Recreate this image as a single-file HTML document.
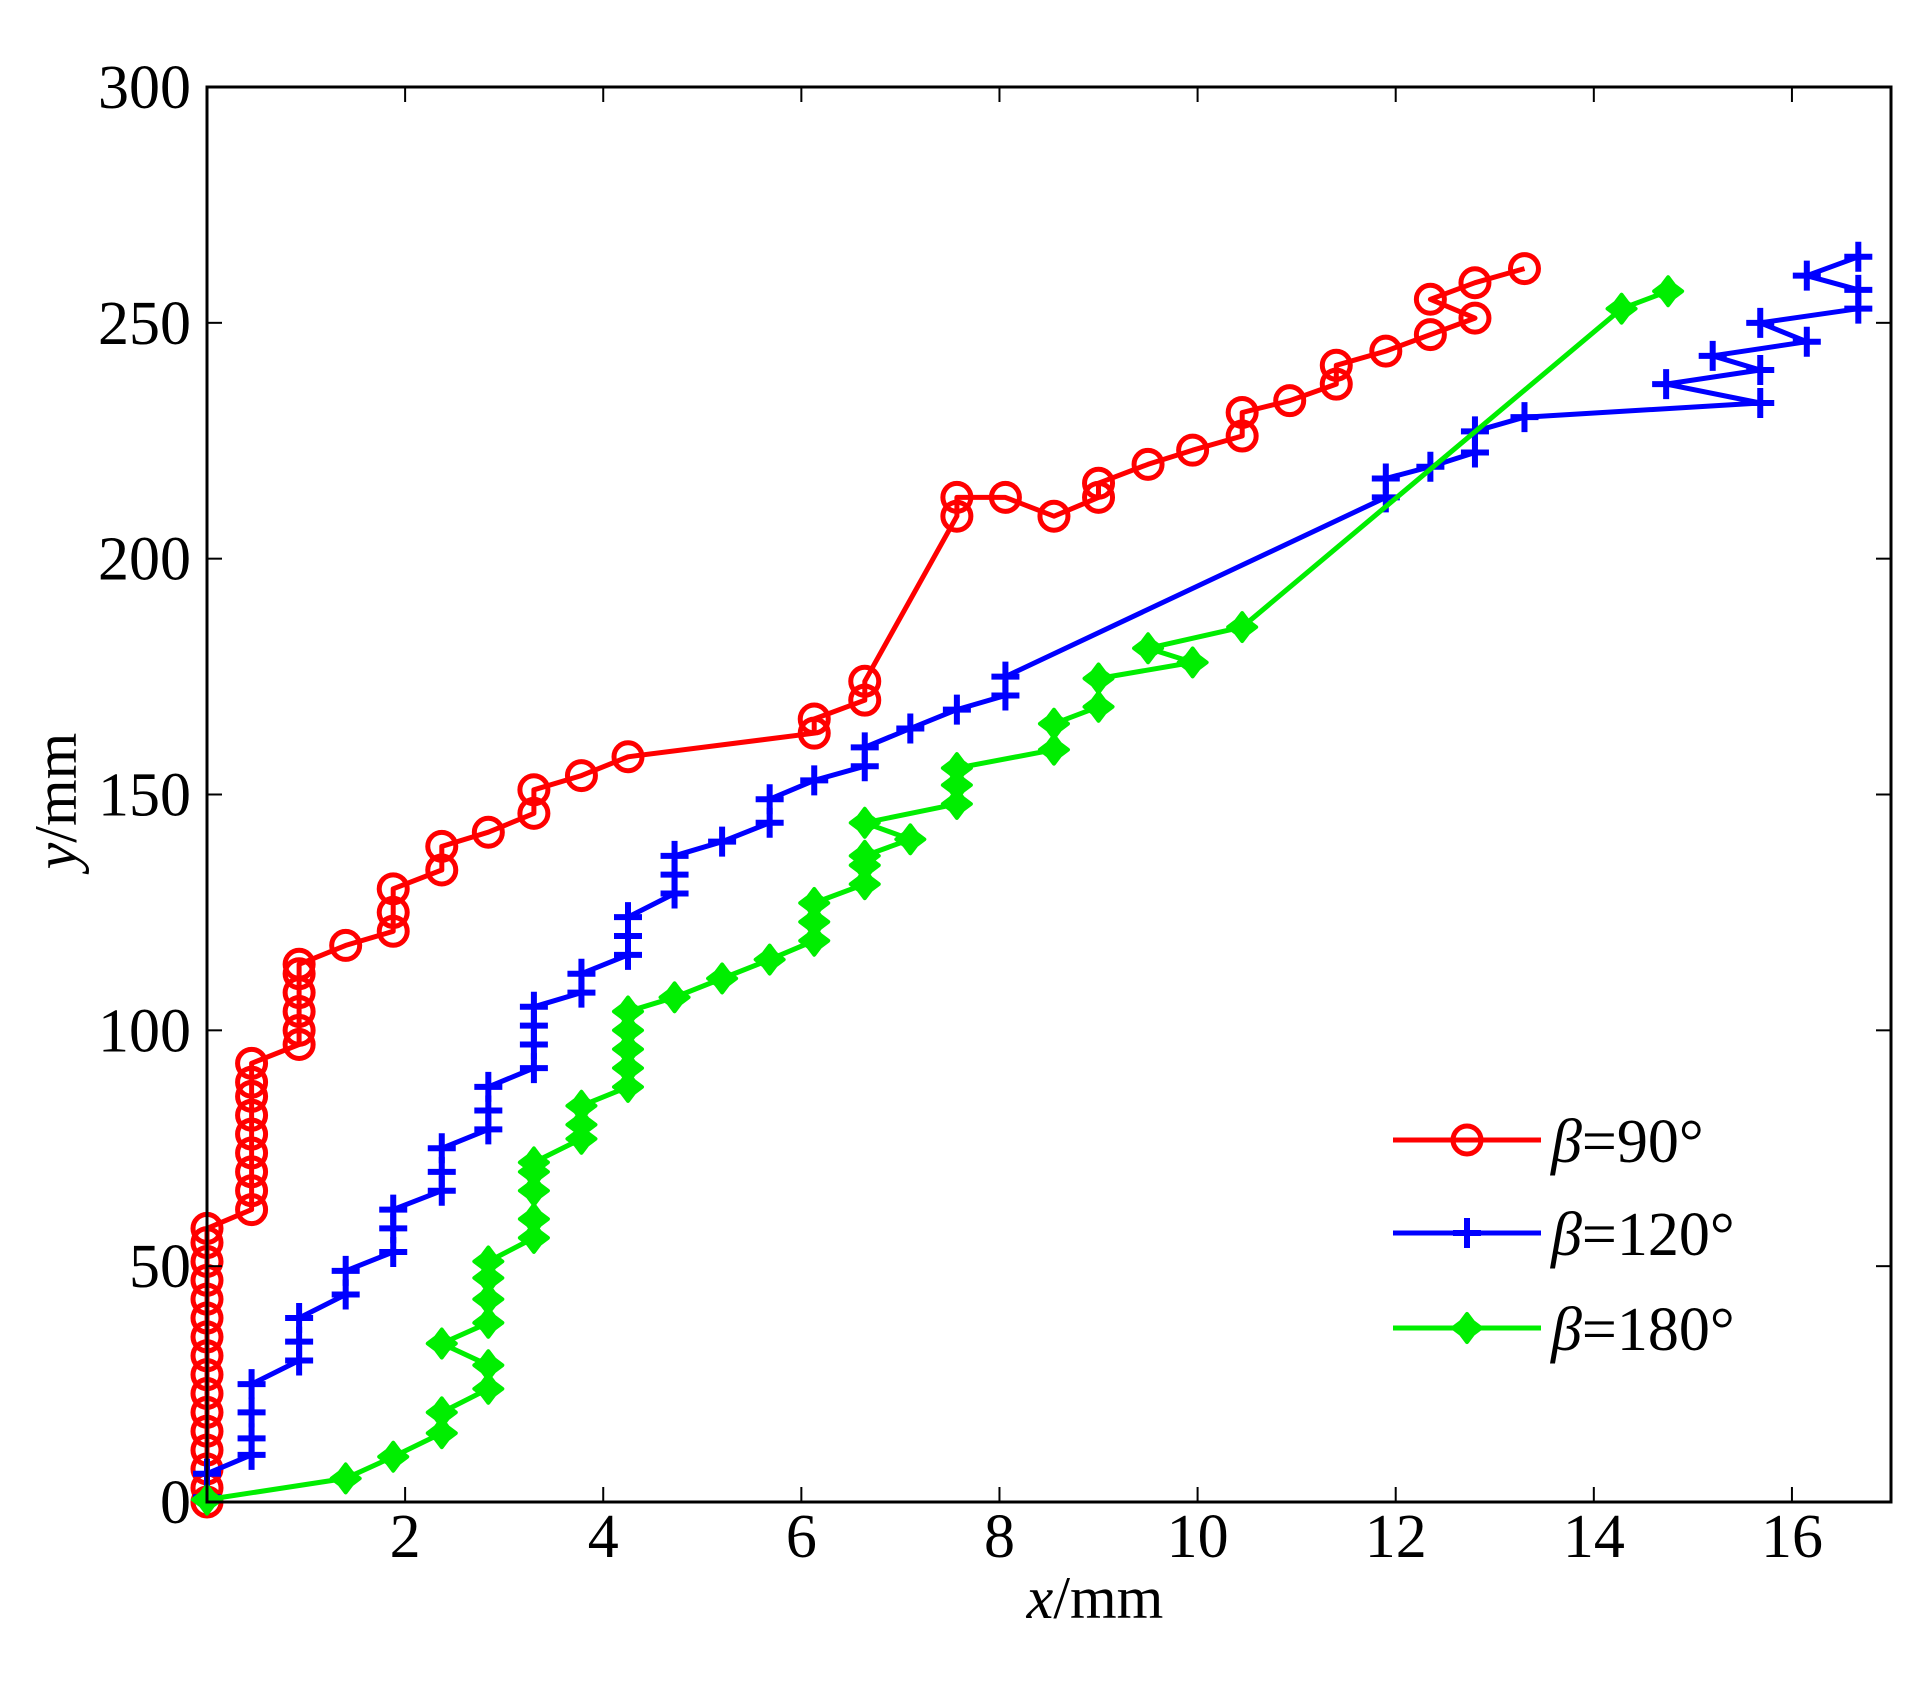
<!DOCTYPE html>
<html><head><meta charset="utf-8"><style>
html,body{margin:0;padding:0;background:#fff;}
svg{display:block;}
text{font-family:"Liberation Serif","DejaVu Serif",serif;fill:#000;}
</style></head><body>
<svg id="chart" width="1923" height="1689" viewBox="0 0 1923 1689" xmlns="http://www.w3.org/2000/svg">
<rect width="1923" height="1689" fill="#fff"/>
<g id="plot"></g>
<rect x="207" y="87" width="1684" height="1415" fill="none" stroke="#000" stroke-width="3"/>
<g id="ticks"></g>
<text x="1095" y="1618" font-size="60" text-anchor="middle"><tspan font-style="italic">x</tspan>/mm</text>
<text transform="translate(76,801) rotate(-90)" font-size="60" text-anchor="middle"><tspan font-style="italic">y</tspan>/mm</text>
<g id="legend"></g>
</svg>
<script>
const xTicks=[2,4,6,8,10,12,14,16];
const yTicks=[0,50,100,150,200,250,300];
const red_x=[0,0,0,0,0,0,0,0,0,0,0,0,0,0,0,0,0.45,0.45,0.45,0.45,0.45,0.45,0.45,0.45,0.45,0.93,0.93,0.93,0.93,0.93,0.93,1.4,1.88,1.88,1.88,2.37,2.37,2.84,3.3,3.3,3.78,4.25,6.13,6.13,6.64,6.64,7.57,7.57,8.06,8.55,9.0,9.0,9.5,9.95,10.45,10.45,10.93,11.4,11.4,11.9,12.35,12.8,12.35,12.8,13.3];
const red_y=[0,3,7,11,15,19,23,27,31,35,39,43,47,51,55,58,62,66,70,74,78,82,86,89,93,97,100,104,108,112,114,118,121,125,130,134,139,142,146,151,154,158,163,166,170,174,209,213,213,209,213,216,220,223,226,231,233.5,237,241,244,247.5,251,255,258.5,261.5];
const blue_x=[0,0,0.45,0.45,0.45,0.45,0.93,0.93,0.93,1.4,1.4,1.88,1.88,1.88,2.37,2.37,2.37,2.84,2.84,2.84,3.3,3.3,3.3,3.3,3.78,3.78,4.25,4.25,4.25,4.72,4.72,4.72,5.2,5.68,5.68,6.13,6.64,6.64,7.1,7.57,8.06,8.06,11.9,11.9,12.35,12.8,12.8,13.3,15.68,14.73,15.68,15.2,16.15,15.68,16.67,16.67,16.15,16.67];
const blue_y=[1,6,10,13.5,19,25,30,34,39,44,49,53,58,62,66,70,75,79,83,88,92,97,101,105,108,112,116,120,124,129,133,137,140,144,149,153,156,160,164,168,171,175,213,217,219.5,222.5,227,230,233,237,240,243,246,250,253,257,260,264];
const green_x=[0,1.4,1.88,2.37,2.37,2.84,2.84,2.37,2.84,2.84,2.84,2.84,3.3,3.3,3.3,3.3,3.3,3.78,3.78,3.78,4.25,4.25,4.25,4.25,4.25,4.72,5.2,5.68,6.13,6.13,6.13,6.64,6.64,6.64,7.1,6.64,7.57,7.57,7.57,8.55,8.55,9.0,9.0,9.95,9.5,10.45,14.28,14.75];
const green_y=[0.5,5,9.6,14.6,19,24,29,33.6,38,43,47.5,51,56,60,66,70,72,77,80,84,88,92,96,100,104,107,111,115,119,123,127,131,135,137,140.5,144,148,152,155.6,159.5,165,168.6,174.6,178,181,185.5,253,256.7];
const legendLabels=["=90°","=120°","=180°"];

const NS="http://www.w3.org/2000/svg";
const L=207,R=1891,T=87,B=1502,XMAX=17,YMAX=300;
function sx(v){return L+v/XMAX*(R-L);}
function sy(v){return B-v/YMAX*(B-T);}
function mk(tag,attrs,parent){const e=document.createElementNS(NS,tag);for(const k in attrs)e.setAttribute(k,attrs[k]);parent.appendChild(e);return e;}
const plot=document.getElementById('plot'),ticks=document.getElementById('ticks'),legend=document.getElementById('legend');

xTicks.forEach(t=>{
  const a=mk('line',{x1:sx(t),x2:sx(t),y1:B,y2:B-15,stroke:'#000','stroke-width':2},ticks);
  
  
  const b=mk('line',{x1:sx(t),x2:sx(t),y1:T,y2:T+15,stroke:'#000','stroke-width':2},ticks);
  
  
  const tx=mk('text',{x:sx(t),y:1557,'font-size':62,'text-anchor':'middle'},ticks);
  tx.textContent=t;
  
  
});
yTicks.forEach(t=>{
  const a=mk('line',{x1:L,x2:L+15,y1:sy(t),y2:sy(t),stroke:'#000','stroke-width':2},ticks);
  
  
  const b=mk('line',{x1:R,x2:R-15,y1:sy(t),y2:sy(t),stroke:'#000','stroke-width':2},ticks);
  
  
  const tx=mk('text',{x:191,y:sy(t)+21,'font-size':62,'text-anchor':'end'},ticks);
  tx.textContent=t;
  
  
});

function marker(kind,cx,cy,color,parent){
  let e;
  if(kind==='o'){e=mk('circle',{cx:cx,cy:cy,r:14,fill:'none',stroke:color,'stroke-width':5},parent);}
  else if(kind==='+'){e=mk('path',{d:`M${cx-14},${cy}H${cx+14}M${cx},${cy-15}V${cy+15}`,stroke:color,'stroke-width':6,fill:'none'},parent);}
  else{e=mk('path',{d:`M${cx},${cy-14}L${cx+6},${cy-6}L${cx+14},${cy}L${cx+6},${cy+6}L${cx},${cy+14}L${cx-6},${cy+6}L${cx-14},${cy}L${cx-6},${cy-6}Z`,fill:color,stroke:color,'stroke-width':4,'stroke-linejoin':'round'},parent);}
  return e;
}
function series(xs,ys,color,kind,name){
  const g=mk('g',{},plot);
  
  
  const pts=xs.map((x,i)=>sx(x).toFixed(1)+','+sy(ys[i]).toFixed(1)).join(' ');
  const pl=mk('polyline',{points:pts,fill:'none',stroke:color,'stroke-width':5,'stroke-linejoin':'round'},g);
  
  
  xs.forEach((x,i)=>{
    const m=marker(kind,sx(x),sy(ys[i]),color,g);
    
    
  });
}
series(red_x,red_y,'#ff0000','o','series-beta-90');
series(blue_x,blue_y,'#0000ff','+','series-beta-120');
series(green_x,green_y,'#00ee00','*','series-beta-180');

const legColors=['#ff0000','#0000ff','#00ee00'],legKinds=['o','+','*'],legY=[1140,1233,1328];
legendLabels.forEach((lab,i)=>{
  const g=mk('g',{},legend);
  
  
  mk('line',{x1:1393,x2:1541,y1:legY[i],y2:legY[i],stroke:legColors[i],'stroke-width':5},g);
  marker(legKinds[i],1467,legY[i],legColors[i],g);
  const t=mk('text',{x:1551,y:legY[i]+22,'font-size':62},g);
  const b=mk('tspan',{'font-style':'italic'},t);b.textContent='β';
  const r=mk('tspan',{},t);r.textContent=lab;
});
</script>
</body></html>
